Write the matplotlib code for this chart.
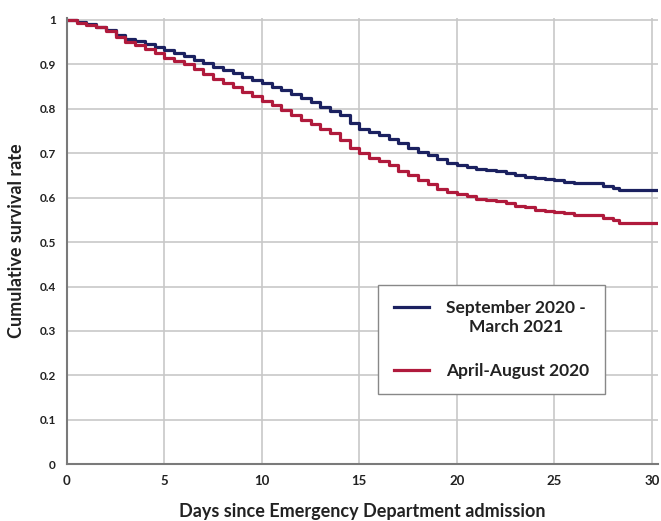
import matplotlib.pyplot as plt
import numpy as np

plt.rcParams['font.family'] = ['Lato', 'DejaVu Sans']

days = [0, 0.5, 1, 1.5, 2, 2.5, 3, 3.5, 4, 4.5, 5, 5.5, 6, 6.5, 7, 7.5, 8, 8.5,
        9, 9.5, 10, 10.5, 11, 11.5, 12, 12.5, 13, 13.5, 14, 14.5, 15, 15.5, 16,
        16.5, 17, 17.5, 18, 18.5, 19, 19.5, 20, 20.5, 21, 21.5, 22, 22.5, 23,
        23.5, 24, 24.5, 25, 25.5, 26, 26.5, 27, 27.5, 28, 28.3, 30.3]

# September 2020 - March 2021
surv_sep = [1.0, 0.995, 0.99, 0.985, 0.978, 0.967, 0.958, 0.952, 0.946, 0.940,
            0.933, 0.925, 0.918, 0.910, 0.902, 0.895, 0.887, 0.880, 0.872, 0.865,
            0.857, 0.850, 0.842, 0.833, 0.825, 0.815, 0.805, 0.795, 0.785, 0.768,
            0.755, 0.747, 0.740, 0.733, 0.722, 0.712, 0.703, 0.695, 0.686, 0.678,
            0.673, 0.670, 0.665, 0.662, 0.660, 0.655, 0.650, 0.647, 0.644, 0.641,
            0.639, 0.636, 0.634, 0.634, 0.633, 0.627, 0.622, 0.617, 0.617]

# April-August 2020
surv_apr = [1.0, 0.992, 0.988, 0.985, 0.975, 0.962, 0.950, 0.943, 0.935, 0.925,
            0.915, 0.908, 0.900, 0.890, 0.878, 0.868, 0.858, 0.848, 0.838, 0.828,
            0.818, 0.808, 0.798, 0.786, 0.775, 0.765, 0.755, 0.745, 0.730, 0.712,
            0.700, 0.690, 0.683, 0.673, 0.660, 0.650, 0.640, 0.630, 0.620, 0.612,
            0.608, 0.603, 0.598, 0.595, 0.593, 0.588, 0.582, 0.578, 0.573, 0.570,
            0.567, 0.565, 0.562, 0.561, 0.561, 0.555, 0.550, 0.544, 0.544]

x_ticks = [0, 5, 10, 15, 20, 25, 30]
y_ticks = [0, 0.1, 0.2, 0.3, 0.4, 0.5, 0.6, 0.7, 0.8, 0.9, 1]
y_labels = ['0', '0.1', '0.2', '0.3', '0.4', '0.5', '0.6', '0.7', '0.8', '0.9', '1']

fig = plt.figure(figsize=(6.61, 5.21), dpi=100)
ax = fig.add_axes([0.101, 0.109, 0.894, 0.857])

ax.step(days, surv_sep, where='post', color='#1b2160', lw=2.3,
        label='September 2020 -\nMarch 2021')
ax.step(days, surv_apr, where='post', color='#b01a3c', lw=2.3,
        label='April-August 2020')

ax.set_xlim(0, 30.3)
ax.set_ylim(0, 1.005)
ax.set_xticks(x_ticks)
ax.set_yticks(y_ticks)
ax.set_yticklabels(y_labels)
ax.grid(True, color='#c8c8c8', lw=1.2)
ax.set_axisbelow(True)
for s in ['top', 'right']:
    ax.spines[s].set_visible(False)
for s in ['left', 'bottom']:
    ax.spines[s].set_color('#7a7a7a')
    ax.spines[s].set_linewidth(1.5)
ax.tick_params(length=0, pad=8, colors='#222222')
for lab in ax.get_xticklabels():
    lab.set_fontsize(9.5)
    lab.set_fontweight('bold')
for lab in ax.get_yticklabels():
    lab.set_fontsize(8.5)
    lab.set_fontweight('bold')

ax.set_xlabel('Days since Emergency Department admission', fontsize=13,
              fontweight='bold', color='#222222', labelpad=11)
ax.set_ylabel('Cumulative survival rate', fontsize=13, fontweight='bold',
              color='#222222', labelpad=10)

leg = ax.legend(loc='upper left', bbox_to_anchor=(0.527, 0.402), fancybox=False,
                edgecolor='#888888', framealpha=1,
                prop={'weight': 'bold', 'size': 12.5}, handlelength=2.0,
                borderpad=0.9, labelspacing=1.6, handletextpad=1.0,
                borderaxespad=0)
leg.get_frame().set_linewidth(1.0)
for t in leg.get_texts():
    t.set_multialignment('center')
    t.set_color('#222222')
# line up the first handle with the first text line, as in the original
h = leg.legend_handles[0]
h.set_ydata(np.asarray(h.get_ydata()) + 8)

fig.savefig('out.png', dpi=100)
